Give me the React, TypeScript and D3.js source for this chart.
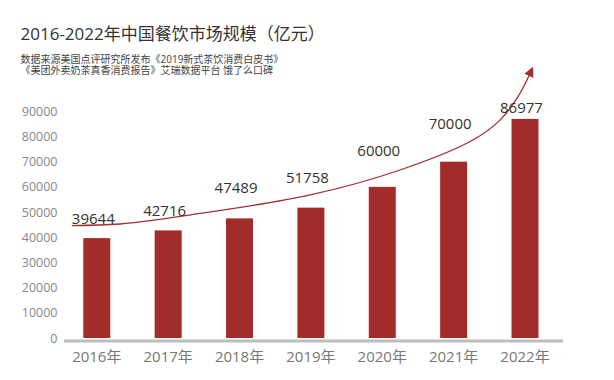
import React from "react";
import * as d3 from "d3";

const years = ["2016年", "2017年", "2018年", "2019年", "2020年", "2021年", "2022年"];
const marketSize = [39644, 42716, 47489, 51758, 60000, 70000, 86977];
const yTicks = [0, 10000, 20000, 30000, 40000, 50000, 60000, 70000, 80000, 90000];

// hand-drawn trend arrow, expressed in (category index, value) units
const trendIdx = [-0.35, 0.33, 1.3, 2.99, 4.25, 5.27, 5.65, 5.9, 6.06];
const trendVal = [44650, 45250, 48800, 56800, 66700, 78600, 86500, 95700, 104400];

const title = "2016-2022年中国餐饮市场规模（亿元）";
const sourceLines = [
  "数据来源美国点评研究所发布《2019新式茶饮消费白皮书》",
  "《美团外卖奶茶真香消费报告》艾瑞数据平台 饿了么口碑",
];

// per-label vertical lift above bar top (layout nudges)
const labelLift = [20, 20, 31.5, 31, 36.5, 39, 11.5];

const W = 614;
const H = 380;
const BAR = "#a12c2a";
const FONT = "'Open Sans', 'Noto Sans CJK SC', sans-serif";

export default function App() {
  const x = d3
    .scaleBand<string>()
    .domain(years)
    .range([61.9, 559.9])
    .paddingInner(0.622)
    .paddingOuter(0.3);
  const y = d3.scaleLinear().domain([0, 90000]).range([338, 111.3]);
  const bw = x.bandwidth();
  const c0 = (x(years[0]) as number) + bw / 2;
  const c6 = (x(years[6]) as number) + bw / 2;
  const xi = d3.scaleLinear().domain([0, 6]).range([c0, c6]);

  const trendPts: [number, number][] = trendIdx.map((t, i) => [xi(t), y(trendVal[i])]);
  const trendPath = d3.line().curve(d3.curveCatmullRom.alpha(0.5))(trendPts) || "";

  return (
    <div style={{ position: "absolute", left: 0, top: 0 }}>
      <svg width={W} height={H} style={{ display: "block", background: "#fff" }}>
        <defs>
          <marker
            id="arrow"
            viewBox="0 0 10 10"
            refX="1"
            refY="5"
            markerUnits="userSpaceOnUse"
            markerWidth="10"
            markerHeight="10"
            orient="auto"
          >
            <path d="M0,0 L10,5 L0,10 z" fill="#a1302e" />
          </marker>
        </defs>

        <text x={20.5} y={40} fontFamily={FONT} fontSize={17} fill="#333">
          {title}
        </text>
        {sourceLines.map((s, i) => (
          <text key={i} x={20.5} y={62.5 + i * 11} fontFamily={FONT} fontSize={10} fill="#444">
            {s}
          </text>
        ))}

        {yTicks.map((t) => (
          <text
            key={t}
            x={57.5}
            y={y(t)}
            textAnchor="end"
            dominantBaseline="central"
            fontFamily={FONT}
            fontSize={12.5}
            fill="#888"
          >
            {t}
          </text>
        ))}

        {years.map((yr, i) => (
          <rect
            key={yr}
            x={x(yr)}
            y={y(marketSize[i])}
            width={bw}
            height={y(0) - y(marketSize[i])}
            fill={BAR}
          />
        ))}

        <line x1={64} x2={563} y1={341} y2={341} stroke="#bdbdbd" strokeWidth={3} />

        {years.map((yr) => (
          <text
            key={yr}
            x={(x(yr) as number) + bw / 2}
            y={362}
            textAnchor="middle"
            fontFamily={FONT}
            fontSize={15}
            fill="#777"
          >
            {yr}
          </text>
        ))}

        <path
          d={trendPath}
          fill="none"
          stroke="#a1302e"
          strokeWidth={1.3}
          markerEnd="url(#arrow)"
        />

        {years.map((yr, i) => (
          <text
            key={yr}
            x={(x(yr) as number) + bw / 2 - 3.5}
            y={y(marketSize[i]) - labelLift[i]}
            textAnchor="middle"
            dominantBaseline="central"
            fontFamily={FONT}
            fontSize={15}
            fill="#333"
          >
            {marketSize[i]}
          </text>
        ))}
      </svg>
    </div>
  );
}
